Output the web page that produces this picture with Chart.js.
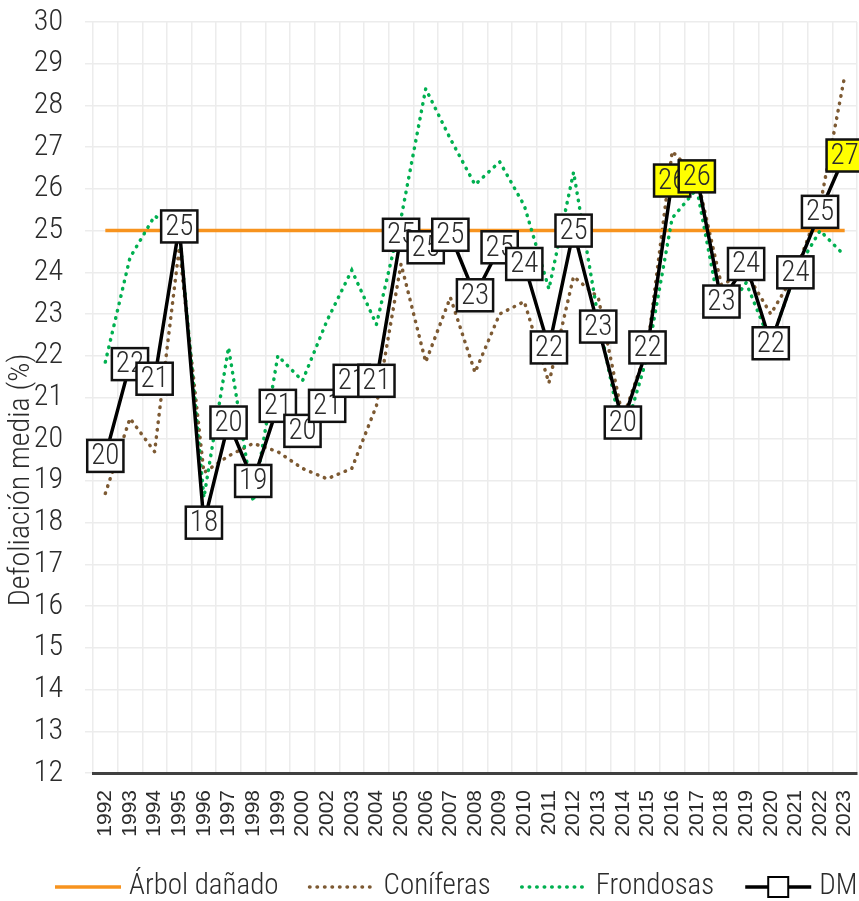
<!DOCTYPE html>
<html>
<head>
<meta charset="utf-8">
<script src="https://cdn.jsdelivr.net/npm/chart.js@4.4.1/dist/chart.umd.min.js"></script>
<style>
  html, body { margin: 0; padding: 0; background: #fff; }
  #wrap { width: 859px; height: 901px; }
</style>
</head>
<body>
<div id="wrap"><canvas id="myChart"></canvas></div>
<script>
const years = ["1992", "1993", "1994", "1995", "1996", "1997", "1998", "1999", "2000", "2002",
  "2003", "2004", "2005", "2006", "2007", "2008", "2009", "2010", "2011", "2012",
  "2013", "2014", "2015", "2016", "2017", "2018", "2019", "2020", "2021", "2022", "2023"];

// defoliación media (DM)
const dm = [19.6, 21.8, 21.45, 25.1, 18.0, 20.4, 19.0, 20.8, 20.2, 20.8,
  21.4, 21.4, 24.9, 24.6, 24.9, 23.45, 24.6, 24.2, 22.2, 25.0,
  22.7, 20.4, 22.2, 26.2, 26.3, 23.3, 24.2, 22.3, 24.0, 25.45, 26.8];

const coniferas = [18.7, 20.5, 19.7, 24.6, 19.2, 19.6, 19.9, 19.7, 19.3, 19.05,
  19.3, 20.8, 24.2, 21.85, 23.4, 21.6, 23.0, 23.3, 21.35, 23.9,
  23.4, 20.5, 22.2, 26.9, 26.3, 23.7, 24.0, 23.0, 24.0, 25.6, 28.7];

const frondosas = [21.85, 24.35, 25.35, 25.0, 18.6, 22.2, 18.5, 22.0, 21.4, 22.85,
  24.05, 22.75, 25.3, 28.4, 27.2, 26.1, 26.65, 25.6, 23.6, 26.4,
  22.9, 20.0, 22.0, 25.3, 26.0, 22.9, 23.75, 22.3, 24.0, 25.0, 24.4];

// umbral de árbol dañado
const arbolDanado = [25, 25, 25, 25, 25, 25, 25, 25, 25, 25,
  25, 25, 25, 25, 25, 25, 25, 25, 25, 25,
  25, 25, 25, 25, 25, 25, 25, 25, 25, 25, 25];

const NARROW = "'Roboto Condensed', 'DejaVu Sans Condensed', sans-serif";
const ORANGE = "#f7931e";
const BROWN = "#7d5a33";
const GREEN = "#00b050";
const TEXT = "#2b2b2b";

// cajas con el valor redondeado sobre la serie DM
const cajasDM = {
  id: "cajasDM",
  afterDatasetsDraw(chart) {
    const ctx = chart.ctx;
    const meta = chart.getDatasetMeta(3);
    ctx.save();
    ctx.font = "300 29px " + NARROW;
    ctx.textAlign = "center";
    ctx.textBaseline = "middle";
    meta.data.forEach((pt, i) => {
      const v = Math.round(dm[i]);
      const txt = String(v);
      const w = Math.max(ctx.measureText(txt).width + 8, 33);
      const h = 32;
      ctx.fillStyle = v > 25 ? "#ffff00" : "#ffffff";
      ctx.fillRect(pt.x - w / 2, pt.y - h / 2, w, h);
      ctx.lineWidth = 2.5;
      ctx.strokeStyle = "#111";
      ctx.strokeRect(pt.x - w / 2, pt.y - h / 2, w, h);
      ctx.fillStyle = TEXT;
      ctx.fillText(txt, pt.x, pt.y + 1);
    });
    ctx.restore();
  },
};

// titulo del eje y y leyenda inferior
const extras = {
  id: "extras",
  afterDraw(chart) {
    const ctx = chart.ctx;
    ctx.save();
    ctx.fillStyle = TEXT;
    ctx.font = "300 30px " + NARROW;
    ctx.textAlign = "center";
    ctx.textBaseline = "middle";
    ctx.translate(21, 480);
    ctx.rotate(-Math.PI / 2);
    ctx.fillText("Defoliación media (%)", 0, 0);
    ctx.restore();

    const items = [
      { label: "Árbol dañado", color: ORANGE, dash: [], width: 3.5 },
      { label: "Coníferas", color: BROWN, dash: [0.5, 7], width: 3.5 },
      { label: "Frondosas", color: GREEN, dash: [0.5, 7], width: 3.5 },
      { label: "DM", color: "#000", dash: [], width: 3.5, box: true },
    ];
    ctx.save();
    ctx.font = "300 29px " + NARROW;
    ctx.textBaseline = "middle";
    let x = 55;
    const y = 887;
    items.forEach((it) => {
      ctx.beginPath();
      ctx.setLineDash(it.dash);
      ctx.lineCap = it.dash.length ? "round" : "butt";
      ctx.lineWidth = it.width;
      ctx.strokeStyle = it.color;
      ctx.moveTo(x, y);
      ctx.lineTo(x + 66, y);
      ctx.stroke();
      ctx.setLineDash([]);
      if (it.box) {
        ctx.fillStyle = "#fff";
        ctx.fillRect(x + 23, y - 10, 20, 20);
        ctx.lineWidth = 2;
        ctx.strokeRect(x + 23, y - 10, 20, 20);
      }
      x += 66 + 8;
      ctx.fillStyle = TEXT;
      ctx.fillText(it.label, x, y);
      x += ctx.measureText(it.label).width + 31;
    });
    ctx.restore();
  },
};

new Chart(document.getElementById("myChart"), {
  type: "line",
  data: {
    labels: years,
    datasets: [
      {
        label: "Árbol dañado",
        data: arbolDanado,
        borderColor: ORANGE,
        borderWidth: 3.5,
        pointRadius: 0,
        order: 2,
      },
      {
        label: "Coníferas",
        data: coniferas,
        borderColor: BROWN,
        borderWidth: 3.5,
        borderDash: [0.5, 7],
        borderCapStyle: "round",
        pointRadius: 0,
        order: 3,
      },
      {
        label: "Frondosas",
        data: frondosas,
        borderColor: GREEN,
        borderWidth: 3.5,
        borderDash: [0.5, 7],
        borderCapStyle: "round",
        pointRadius: 0,
        order: 1,
      },
      {
        label: "DM",
        data: dm,
        borderColor: "#000",
        borderWidth: 3.5,
        pointRadius: 0,
        order: 0,
      },
    ],
  },
  options: {
    responsive: true,
    maintainAspectRatio: false,
    animation: false,
    layout: { padding: { top: 22, right: 2, bottom: 40, left: 0 } },
    plugins: {
      legend: { display: false },
      tooltip: { enabled: false },
    },
    scales: {
      x: {
        offset: true,
        grid: { offset: true, color: "#ececec", lineWidth: 1.5, drawTicks: false },
        border: { display: true, color: "#404040", width: 3 },
        ticks: {
          autoSkip: false,
          minRotation: 90,
          maxRotation: 90,
          padding: 17,
          color: TEXT,
          font: { family: "'Liberation Sans', Arial, sans-serif", size: 21 },
        },
        afterFit(scale) {
          scale.height = 88;
          scale.paddingLeft = 0;
          scale.paddingRight = 0;
        },
      },
      y: {
        min: 12,
        max: 30,
        grid: { color: "#ececec", lineWidth: 1.5, tickLength: 8 },
        border: { display: false },
        ticks: {
          stepSize: 1,
          padding: 22,
          color: TEXT,
          font: { family: NARROW, size: 30, weight: "300" },
        },
        afterFit(scale) {
          scale.width = 93;
          scale.paddingTop = 0;
          scale.paddingBottom = 0;
        },
      },
    },
  },
  plugins: [cajasDM, extras],
});
</script>
</body>
</html>
